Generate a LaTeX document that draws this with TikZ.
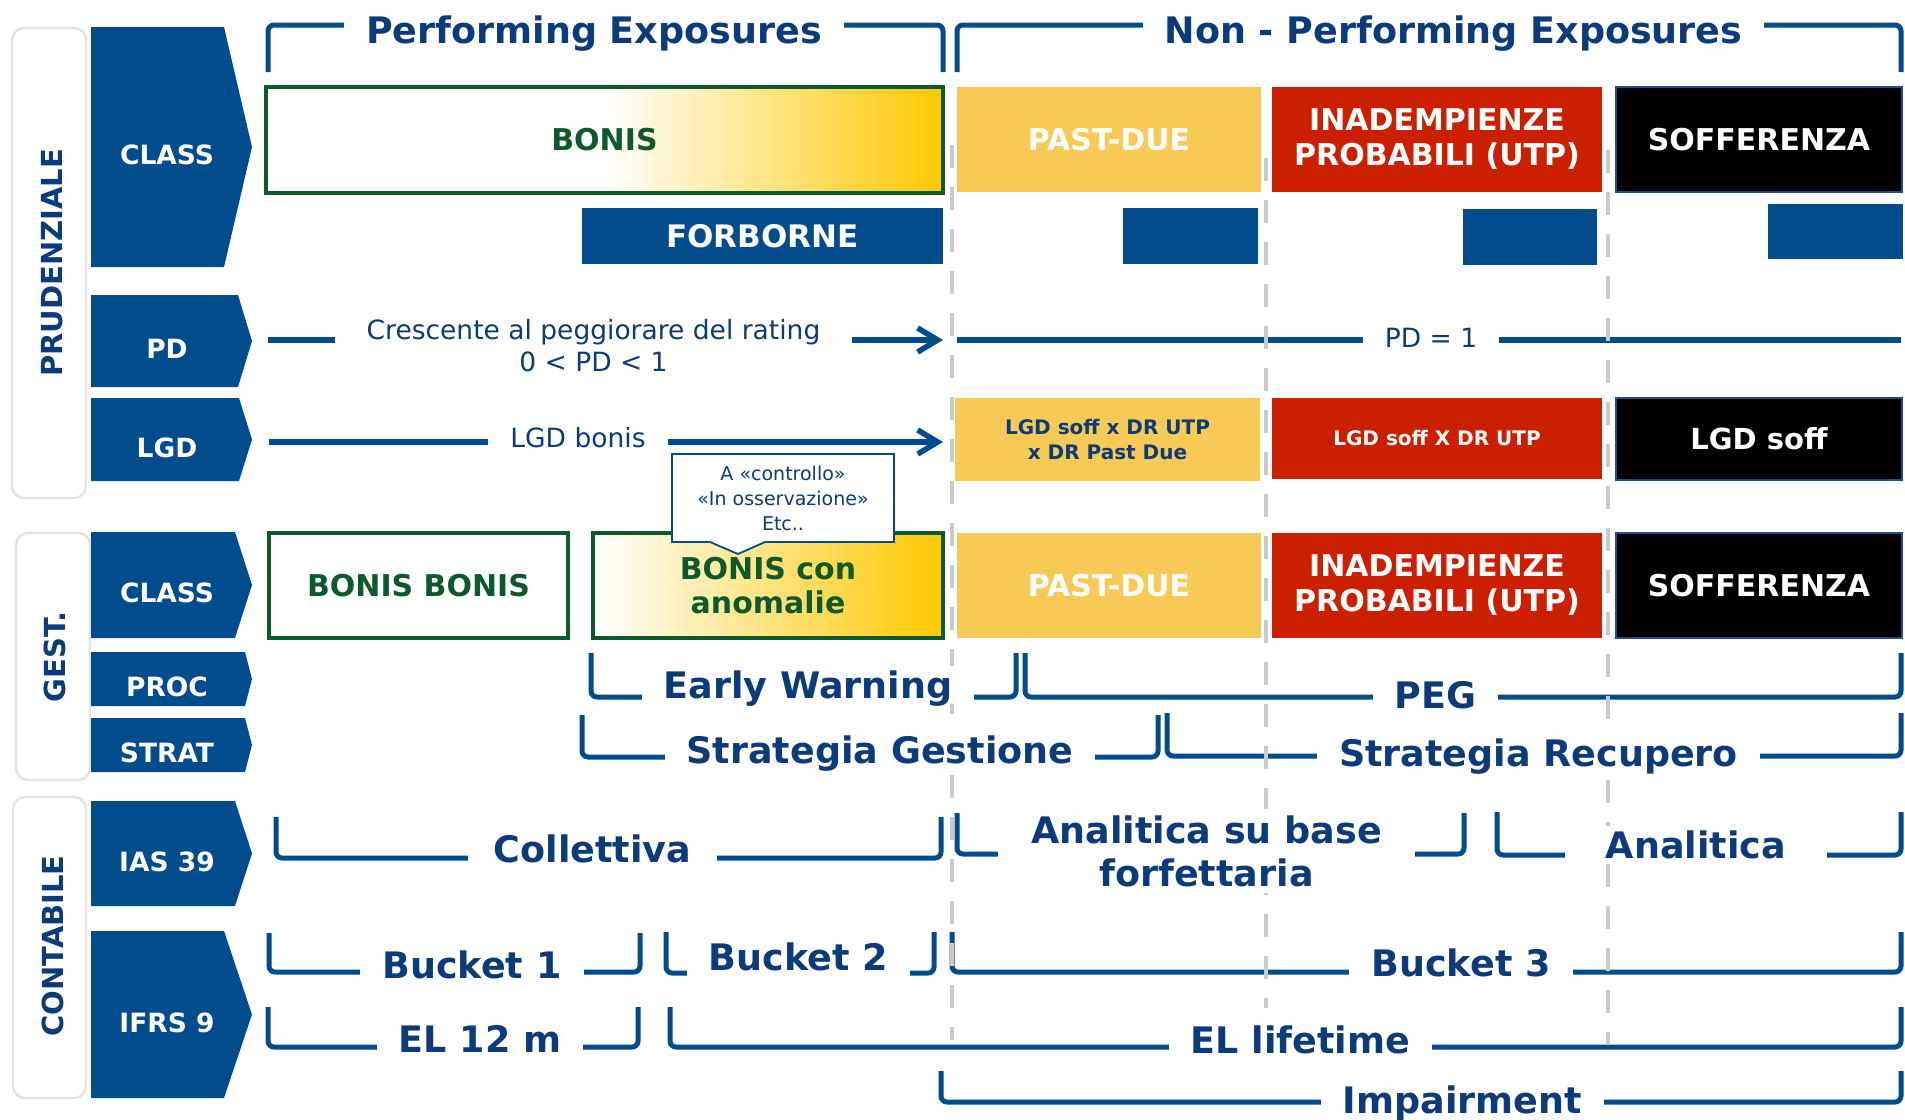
\documentclass[tikz,border=0pt]{standalone}
\usepackage{fontspec}
\setmainfont{DejaVu Sans}
\usetikzlibrary{calc,arrows.meta}

\definecolor{bankblue}{HTML}{004C8C}
\definecolor{navy}{HTML}{0B3B7A}
\definecolor{bonisgreen}{HTML}{0C5A2B}
\definecolor{gold}{HTML}{FFC800}
\definecolor{pastdue}{HTML}{F7CA55}
\definecolor{utpred}{HTML}{CC1F00}
\definecolor{dashgrey}{HTML}{CACACA}
\definecolor{framegrey}{HTML}{E3E3E3}
\definecolor{soffline}{HTML}{1F4E8C}

\begin{document}
\begin{tikzpicture}[x=0.5pt,y=-0.5pt,
  brk/.style={draw=bankblue,line width=2.5pt,rounded corners=3pt},
  arr/.style={draw=bankblue,line width=2.75pt,-{Straight Barb[length=10pt,width=12pt]}},
  divline/.style={draw=dashgrey,line width=2pt,dash pattern=on 11.5pt off 9.5pt},
  grp/.style={draw=framegrey,line width=1.2pt,fill=white,rounded corners=6pt},
  grplbl/.style={text=navy,font=\bfseries\fontsize{14.5}{16}\selectfont,rotate=90,inner sep=0pt},
  oneline/.style={text height=#1,text depth=0pt},
  chevtxt/.style={text=white,font=\bfseries\fontsize{13.25}{15}\selectfont,oneline=9.66pt,inner sep=0pt},
  big/.style={text=navy,fill=white,font=\bfseries\fontsize{18.25}{21.5}\selectfont,inner xsep=11pt,inner ysep=3pt,align=center},
  bigone/.style={big,oneline=13.3pt},
  boxtxt/.style={font=\bfseries\fontsize{15}{17.5}\selectfont,align=center,inner sep=0pt},
  rowtxt/.style={text=navy,fill=white,font=\fontsize{13.25}{16}\selectfont,align=center,inner ysep=2pt,inner xsep=11pt}
]
  \useasboundingbox (0,0) rectangle (1905,1119);

  %% Group frames on the left
  \draw[grp] (12,28) rectangle (86,498);
  \node[grplbl] (prud) at (52,263) {PRUDENZIALE};
  \draw[grp] (16,533) rectangle (90,780);
  \node[grplbl] (gest) at (55,657) {GEST.};
  \draw[grp] (13,797) rectangle (86,1098);
  \node[grplbl] (cont) at (53,946) {CONTABILE};

  %% Row headers
  \foreach \nm/\ya/\yb/\xr/\txt in {pcl/27/267/224/CLASS, ppd/295/387/238/PD, plgd/398/481/239/LGD,
      gcl/532/638/235/CLASS, gproc/652/706/245/PROC, gstrat/718/772/245/STRAT,
      cias/801/906/235/IAS 39, cifrs/931/1098/224/IFRS 9}
  {
    \fill[bankblue] (91,\ya) -- (\xr,\ya) -- (252,{(\ya+\yb)/2}) -- (\xr,\yb) -- (91,\yb) -- cycle;
    \node[chevtxt] (\nm) at (167,{(\ya+\yb)/2+8}) {\txt};
  }

  %% Brackets
  \foreach \xa/\xb/\yt/\yl in {268/943/72/25, 957/1901/72/25,
      591/1016/653/697, 1025/1901/653/697, 582/1158/715/757, 1167/1901/713/756,
      276/941/817/858, 957/1464/813/854, 1497/1901/812/855,
      269/640/933/972, 666/934/932/973, 952/1901/932/972,
      268/638/1007/1047, 670/1901/1007/1047, 941/1901/1071/1102}
  {
    \draw[brk] (\xa,\yt) -- (\xa,\yl) -- (\xb,\yl) -- (\xb,\yt);
  }

  %% PD and LGD lines
  \coordinate (pdL) at (268,340);
  \coordinate (pdR) at (943,340);
  \coordinate (lgdL) at (269,442);
  \coordinate (lgdR) at (943,442);
  \coordinate (npL) at (957,340);
  \coordinate (npR) at (1901,340);
  \draw[arr] (pdL) -- (pdR);
  \draw[arr] (lgdL) -- (lgdR);
  \draw[draw=bankblue,line width=2.75pt] (npL) -- (npR);

  %% Dashed separators
  \foreach \xx/\ya/\yb in {952/145/1040, 1266/158/1008, 1608/150/1045}
  {
    \draw[divline] (\xx,\ya) -- (\xx,\yb);
  }

  %% Performing boxes
  \draw[draw=bonisgreen,line width=1.7pt,left color=white,right color=gold,middle color=white] (266,87) rectangle (943,193);
  \node[boxtxt,oneline=10.94pt,text=bonisgreen] (bonis) at (604.5,140) {BONIS};
  \fill[bankblue] (582,208) rectangle (943,264);
  \node[boxtxt,oneline=11.3pt,text=white,font=\bfseries\fontsize{15.5}{18}\selectfont] (forb) at (762.5,236) {FORBORNE};
  \draw[draw=bonisgreen,line width=1.7pt,fill=white] (269,533) rectangle (568,638);
  \node[boxtxt,oneline=10.94pt,text=bonisgreen] (bb) at (418.5,585.5) {BONIS BONIS};
  \draw[draw=bonisgreen,line width=1.7pt,left color=white,right color=gold] (593,533) rectangle (943,638);
  \node[boxtxt,text=bonisgreen,font=\bfseries\fontsize{15}{17}\selectfont] (bca) at (768,586) {BONIS con\\anomalie};

  %% Non-performing boxes
  \foreach \nm/\ya/\yb in {pdA/87/192, pdB/533/638}
  {
    \fill[pastdue] (957,\ya) rectangle (1261,\yb);
    \node[boxtxt,oneline=10.94pt,text=white] (\nm) at (1109,{(\ya+\yb)/2}) {PAST-DUE};
  }
  \foreach \nm/\ya/\yb in {utpA/87/192, utpB/533/638}
  {
    \fill[utpred] (1272,\ya) rectangle (1602,\yb);
    \node[boxtxt,text=white] (\nm) at (1437,{(\ya+\yb)/2}) {INADEMPIENZE\\PROBABILI (UTP)};
  }
  \foreach \nm/\ya/\yb in {sofA/87/192, sofB/533/638}
  {
    \draw[draw=soffline,fill=black,line width=1pt] (1616,\ya) rectangle (1902,\yb);
    \node[boxtxt,oneline=10.94pt,text=white] (\nm) at (1759,{(\ya+\yb)/2}) {SOFFERENZA};
  }
  \foreach \xa/\ya/\xb/\yb in {1123/208/1258/264, 1463/209/1597/265, 1768/204/1903/259}
  {
    \fill[bankblue] (\xa,\ya) rectangle (\xb,\yb);
  }

  %% LGD row
  \fill[pastdue] (955,398) rectangle (1260,481);
  \node[boxtxt,text=navy,font=\bfseries\fontsize{10}{12.5}\selectfont] (lgdpd) at (1107.5,439.5) {LGD soff x DR UTP\\x DR Past Due};
  \fill[utpred] (1272,398) rectangle (1602,479);
  \node[boxtxt,oneline=7.29pt,text=white,font=\bfseries\fontsize{10}{12.5}\selectfont] (lgdutp) at (1437,438.5) {LGD soff X DR UTP};
  \draw[draw=soffline,fill=black,line width=1pt] (1616,398) rectangle (1902,480);
  \node[boxtxt,oneline=10.57pt,text=white,font=\bfseries\fontsize{14.5}{16}\selectfont] (lgdsof) at (1759,439) {LGD soff};

  %% Row texts
  \node[rowtxt,inner xsep=16pt] (cres) at (593.5,346) {Crescente al peggiorare del rating\\0 < PD < 1};
  \node[rowtxt,oneline=9.66pt] (lgdb) at (578,438) {LGD bonis};
  \node[rowtxt,oneline=9.66pt] (pdone) at (1431,338) {PD = 1};

  %% Bracket labels
  \node[bigone] (hdrPE) at (594,30) {Performing Exposures};
  \node[bigone] (hdrNPE) at (1453.5,30) {Non - Performing Exposures};
  \node[bigone] (ew) at (808,685) {Early Warning};
  \node[bigone] (peg) at (1435.5,695) {PEG};
  \node[bigone] (sg) at (880,750) {Strategia Gestione};
  \node[bigone] (sr) at (1538.5,753) {Strategia Recupero};
  \node[bigone,inner xsep=13pt] (coll) at (592.5,849) {Collettiva};
  \node[big,inner xsep=16.5pt] (anb) at (1206.5,851) {Analitica su base\\forfettaria};
  \node[bigone,inner xsep=20.5pt] (ana) at (1696,845) {Analitica};
  \node[bigone] (bkA) at (472,965) {Bucket 1};
  \node[bigone] (bkB) at (798.5,957) {Bucket 2};
  \node[bigone] (bkC) at (1461,963) {Bucket 3};
  \node[bigone] (elA) at (480,1039) {EL 12 m};
  \node[bigone] (elB) at (1300.5,1040) {EL lifetime};
  \node[bigone] (imp) at (1462.5,1100) {Impairment};

  %% Callout
  \filldraw[draw=bankblue,fill=white,line width=0.9pt] (672,454) -- (894,454) -- (894,542) -- (765,542)
    -- (738,554) -- (710,542) -- (672,542) -- cycle;
  \node[text=navy,font=\fontsize{9.5}{12.5}\selectfont,align=center,inner sep=0pt] (note) at (783,498)
    {A «controllo»\\«In osservazione»\\Etc..};
\end{tikzpicture}
\end{document}
